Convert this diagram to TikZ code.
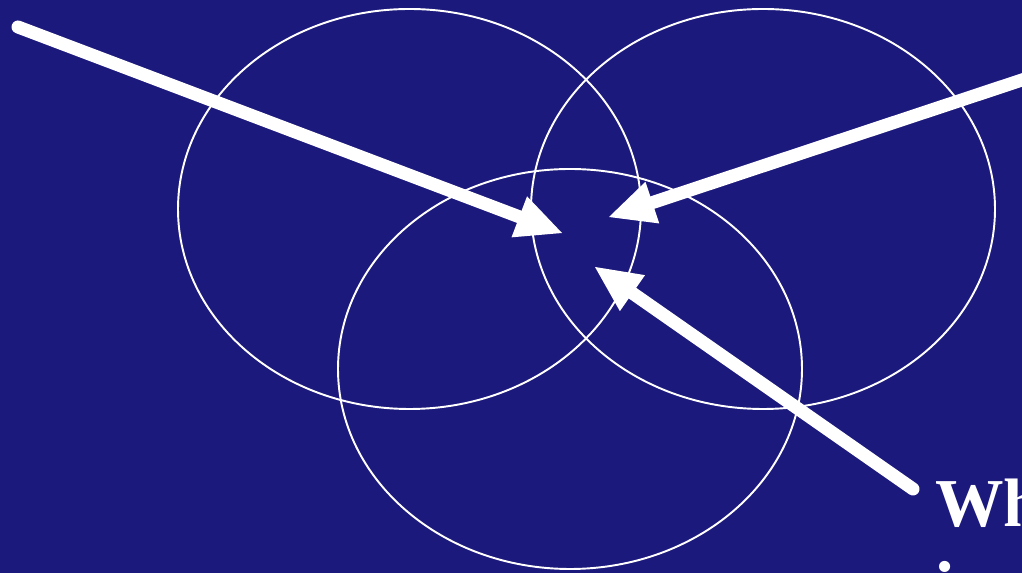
\documentclass[tikz,border=0pt]{standalone}
\usepackage{fontspec}
\setmainfont{Liberation Serif}
\usetikzlibrary{arrows.meta}
\definecolor{slideblue}{RGB}{28,25,125}

\tikzset{
	ring/.style={draw=white, line width=1.1pt},
	pointer/.style={draw=white, line width=7.4pt, line cap=round,
		-{Triangle[length=26pt, width=25pt, line width=0pt]}},
	slidetext/.style={text=white, inner sep=0pt, anchor=base west,
		font=\bfseries\fontsize{39}{46}\selectfont},
}

\begin{document}
\begin{tikzpicture}[x=0.02cm, y=-0.02cm]
		\fill[slideblue] (0,0) rectangle (1022,573);
		\useasboundingbox (0,0) rectangle (1022,573);

		\draw[ring] (409.5,209) ellipse [x radius=231.5, y radius=200];
		\draw[ring] (763,209) ellipse [x radius=232, y radius=200];
		\draw[ring] (570,369) ellipse [x radius=232, y radius=200];

		\node[slidetext] (wh) at (935,527) {Wh};
		\node[slidetext] (dot) at (936,572) {.};

		\coordinate (tailA) at (18,27);
		\coordinate (tailB) at (1040,74);
		\coordinate (tailC) at (913,489);
		\coordinate (tipA) at (562,233);
		\coordinate (tipB) at (609,217);
		\coordinate (tipC) at (595,267);

		\draw[pointer] (tailA) -- (tipA);
		\draw[pointer] (tailB) -- (tipB);
		\draw[pointer] (tailC) -- (tipC);
	\end{tikzpicture}
\end{document}
